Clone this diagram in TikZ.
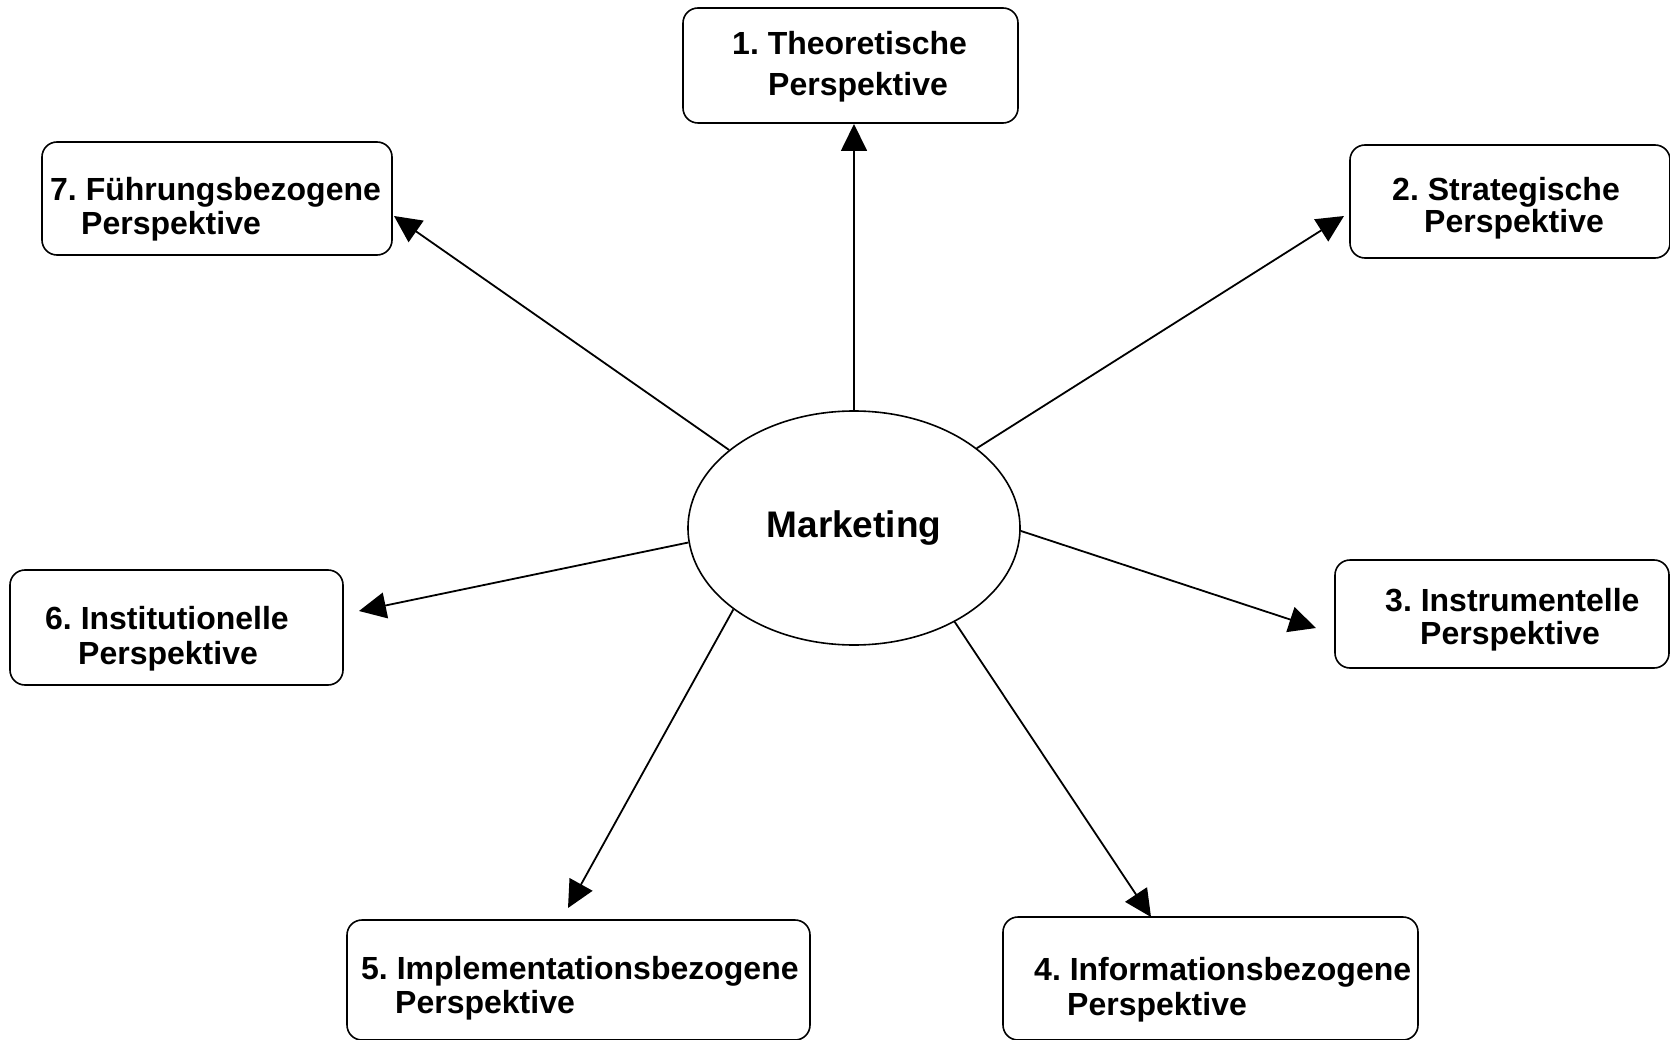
\documentclass[tikz,border=0pt]{standalone}
\usepackage{fontspec}
\setmainfont{Liberation Sans}
\usetikzlibrary{arrows.meta,shapes.geometric}
\frenchspacing
\begin{document}
\begin{tikzpicture}[x=1pt,y=-1pt,
  box/.style={draw,line width=1.6pt,rounded corners=15pt,inner sep=0pt},
  lbl/.style={anchor=base west,inner sep=0pt,font=\fontsize{32}{36}\selectfont\bfseries},
  arr/.style={line width=1.8pt,-{Triangle[length=27pt,width=26pt]}}]
\clip (0,0) rectangle (1670,1040);
\fill[white] (0,0) rectangle (1670,1040);
% centre
\node[draw,ellipse,line width=1.6pt,minimum width=332pt,minimum height=234pt,inner sep=0pt,
  font=\fontsize{37}{40}\selectfont\bfseries] (m) at (854,528) {Marketing};
% boxes
\node[box,minimum width=335pt,minimum height=115pt] (b1) at (850.5,65.5) {};
\node[box,minimum width=320pt,minimum height=113pt] (b2) at (1510,201.5) {};
\node[box,minimum width=334pt,minimum height=108pt] (b3) at (1502,614) {};
\node[box,minimum width=415pt,minimum height=123pt] (b4) at (1210.5,978.5) {};
\node[box,minimum width=463pt,minimum height=120pt] (b5) at (578.5,980) {};
\node[box,minimum width=333pt,minimum height=115pt] (b6) at (176.5,627.5) {};
\node[box,minimum width=350pt,minimum height=113pt] (b7) at (217,198.5) {};
% labels
\node[lbl] (t1a) at (732,55) {1. Theoretische};
\node[lbl] (t1b) at (768,96) {Perspektive};
\node[lbl] (t2a) at (1392,201) {2. Strategische};
\node[lbl] (t2b) at (1424,233) {Perspektive};
\node[lbl] (t3a) at (1385,611) {3. Instrumentelle};
\node[lbl] (t3b) at (1420,644) {Perspektive};
\node[lbl] (t4a) at (1034,980) {4. Informationsbezogene};
\node[lbl] (t4b) at (1067,1015) {Perspektive};
\node[lbl] (t5a) at (361,979) {5. Implementationsbezogene};
\node[lbl] (t5b) at (395,1013) {Perspektive};
\node[lbl] (t6a) at (45,629) {6. Institutionelle};
\node[lbl] (t6b) at (78,664) {Perspektive};
\node[lbl] (t7a) at (50,201) {7. Führungsbezogene};
\node[lbl] (t7b) at (81,235) {Perspektive};
% arrow tips
\coordinate (e1) at (854,124);
\coordinate (e2) at (1344,216);
\coordinate (e3) at (1316,628);
\coordinate (e4) at (1151,917);
\coordinate (e5) at (568,908);
\coordinate (e6) at (359,611);
\coordinate (e7) at (394,216);
\draw[arr] (m.north) -- (e1);
\draw[arr] (m.33) -- (e2);
\draw[arr] (m.-1) -- (e3);
\draw[arr] (m.-43) -- (e4);
\draw[arr] (m.-146) -- (e5);
\draw[arr] (m.185) -- (e6);
\draw[arr] (m.148) -- (e7);
\end{tikzpicture}
\end{document}
